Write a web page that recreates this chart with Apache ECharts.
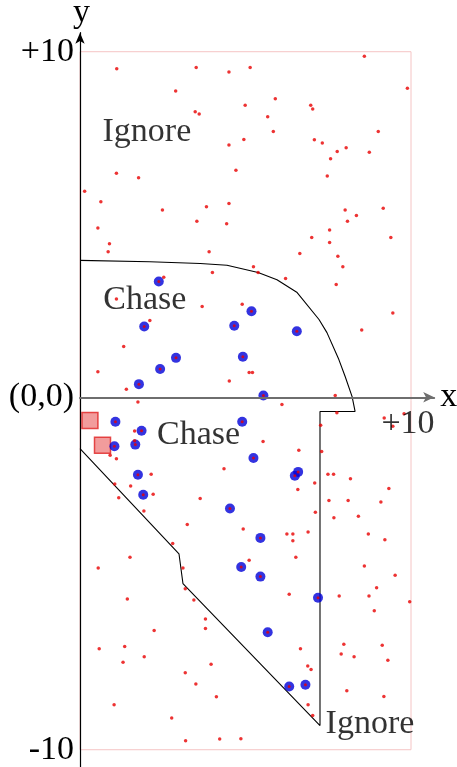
<!DOCTYPE html>
<html>
<head>
<meta charset="utf-8">
<script src="https://cdn.jsdelivr.net/npm/echarts@6/dist/echarts.min.js"></script>
<style>
  html, body { margin: 0; padding: 0; background: #fff; }
  #main { width: 457px; height: 767px; }
</style>
</head>
<body>
<div id="main"></div>
<script>
// scattered targets (red)
const dotX = [1.11, 3.51, 4.50, 2.89, 3.48, 3.60, 4.50, 1.10, 1.77, 0.14, 0.63, 2.49, 3.82, 4.50, 0.54, 3.53, 4.43, 0.89, 0.85, 3.90,
  8.59, 5.14, 9.89, 5.90, 4.99, 6.97, 7.03, 5.67, 5.84, 9.01, 4.95, 7.08, 7.32, 8.04, 7.77, 8.74, 7.57, 4.71, 7.47, 8.01, 9.16, 8.35, 8.08, 7.54, 7.00, 9.39, 7.54, 6.64, 7.79,
  4.00, 2.53, 1.10, 3.69, 2.11, 1.32, 0.54, 1.40, 4.51, 1.75, 1.65, 1.65, 0.91, 1.10, 4.35, 2.15, 1.05, 1.53, 2.21, 1.17, 3.63,
  7.94, 5.24, 5.38, 6.21, 7.74, 4.90, 9.45, 8.51, 5.11, 5.21, 7.71, 6.10, 7.76, 9.19, 9.79, 9.45, 7.27, 5.53, 6.61, 7.30, 7.49, 7.66, 8.17, 6.58, 7.09, 9.33, 7.52, 8.10, 9.09,
  1.93, 3.24, 2.80, 1.51, 0.55, 3.11, 3.18, 1.43, 3.44, 3.79, 3.79, 2.24, 0.58, 1.35, 1.94, 1.30, 3.96, 3.18, 3.50, 4.12, 1.03, 2.77, 3.19, 4.22,
  7.11, 7.67, 8.41, 4.93, 6.25, 6.43, 6.89, 8.71, 9.21, 6.43, 6.52, 5.11, 8.59, 9.52, 8.96, 6.32, 7.83, 8.73, 9.96, 8.89, 6.66, 7.97, 9.13, 7.89, 8.28, 9.30, 6.88, 6.98, 8.06, 9.18, 6.89, 7.03, 4.86];
const dotY = [9.51, 9.54, 9.41, 8.86, 8.26, 8.20, 7.30, 6.48, 6.35, 5.96, 5.66, 5.42, 5.51, 5.61, 4.90, 5.09, 5.02, 4.44, 4.21, 4.21,
  9.87, 9.54, 8.94, 8.64, 8.45, 8.45, 8.34, 8.12, 7.69, 7.69, 7.46, 7.45, 7.36, 7.22, 7.11, 7.09, 6.90, 6.57, 6.40, 5.42, 5.47, 5.26, 5.09, 4.84, 4.62, 4.62, 4.48, 4.16, 4.08,
  3.61, 3.47, 2.84, 2.63, 2.22, 1.47, 0.74, 0.23, 0.47, -0.14, -0.98, -1.26, -1.68, -1.78, -2.07, -2.23, -2.51, -2.57, -2.81, -2.91, -2.93,
  3.78, 3.78, 3.61, 3.44, 3.26, 2.69, 2.44, 1.95, 0.72, 0.72, 0.05, -0.21, -0.45, -0.60, -0.48, -0.84, -0.81, -1.28, -1.53, -1.57, -2.23, -2.23, -2.36, -2.67, -2.48, -2.64, -2.99, -2.99, -3.03,
  -3.29, -3.68, -4.23, -4.63, -4.94, -4.94, -5.54, -5.84, -5.87, -6.42, -6.69, -6.75, -7.28, -7.21, -7.51, -7.67, -7.73, -7.97, -8.30, -8.67, -8.90, -9.28, -9.94, -9.89,
  -3.33, -3.49, -3.44, -3.81, -3.96, -3.96, -3.90, -3.96, -4.12, -4.15, -4.63, -4.72, -4.88, -5.15, -5.51, -5.70, -5.75, -5.75, -5.92, -6.18, -7.28, -7.15, -7.18, -7.43, -7.51, -7.61, -7.78, -7.88, -8.49, -8.66, -8.90, -9.21, -9.88];

// targets being chased (blue)
const chaseX = [2.38, 1.94, 4.66, 5.18, 6.55, 2.90, 2.42, 4.92, 1.78, 5.54, 1.07, 1.86, 4.90, 1.04, 1.67, 5.24, 1.75, 6.59, 6.49, 1.91, 4.53, 5.45, 4.87, 5.45, 7.19, 5.67, 6.32, 6.81];
const chaseY = [3.35, 2.05, 2.07, 2.49, 1.91, 1.14, 0.82, 1.17, 0.38, 0.05, -0.71, -0.97, -0.71, -1.42, -1.37, -1.76, -2.24, -2.16, -2.27, -2.82, -3.22, -4.07, -4.91, -5.19, -5.80, -6.80, -8.37, -8.32];

// chasers (red squares)
const squareX = [0.30, 0.68];
const squareY = [-0.67, -1.39];

// chase / ignore boundary
const boundaryX = [0, 2.11, 3.63, 4.44, 5.38, 5.95, 6.56, 7.22, 7.46, 7.82, 8.01, 8.22, 8.31, 7.25, 7.25, 3.11, 2.99, 0];
const boundaryY = [3.96, 3.92, 3.87, 3.82, 3.61, 3.40, 3.03, 2.25, 1.87, 1.09, 0.60, 0.02, -0.41, -0.41, -9.50, -5.39, -4.53, -1.49];

// arena box
const boxX = [0, 10];
const boxY = [-10.2, 10];

// region names
const regionNames = ['Ignore', 'Chase', 'Chase', 'Ignore'];
const regionX = [2.02, 1.96, 3.58, 8.76];
const regionY = [7.66, 2.80, -1.10, -9.45];

// tick labels
const xTickValues = [10];
const xTickLabels = ['+10'];
const yTickValues = [10, 0, -10.2];
const yTickLabels = ['+10', '(0,0)', '-10'];

const zip = (xs, ys) => xs.map((x, i) => [x, ys[i]]);
const serif = 'Liberation Serif';

const chart = echarts.init(document.getElementById('main'));
chart.setOption({
  animation: false,
  grid: { left: 80, right: 22.8, top: 32.7, bottom: 0, containLabel: false, outerBoundsMode: 'none' },
  xAxis: {
    type: 'value',
    min: 0,
    max: 10.7,
    z: 10,
    name: 'x',
    nameGap: 6,
    nameTextStyle: { fontFamily: serif, fontSize: 34, color: '#000' },
    axisLine: {
      onZero: true,
      symbol: ['none', 'arrow'],
      symbolSize: [8, 11],
      lineStyle: { color: '#6e6e6e', width: 2 }
    },
    axisTick: { show: false },
    splitLine: { show: false },
    axisLabel: { show: false }
  },
  yAxis: {
    type: 'value',
    min: -10.7,
    max: 10.55,
    z: 10,
    name: 'y',
    nameGap: 3,
    nameTextStyle: { fontFamily: serif, fontSize: 34, color: '#000', align: 'right', padding: [0, -10, 0, 0] },
    axisLine: {
      onZero: true,
      symbol: ['none', 'arrow'],
      symbolSize: [7, 11],
      lineStyle: { color: '#000', width: 1.2 }
    },
    axisTick: { show: false },
    splitLine: { show: false },
    axisLabel: {
      customValues: yTickValues,
      formatter: v => yTickLabels[yTickValues.indexOf(v)],
      margin: 6,
      fontFamily: serif,
      fontSize: 34,
      color: '#000'
    }
  },
  series: [
    {
      type: 'line',
      data: [],
      silent: true,
      markArea: {
        silent: true,
        itemStyle: { color: 'rgba(0,0,0,0)', borderColor: '#f5c4c4', borderWidth: 1 },
        data: [[{ coord: [boxX[0], boxY[1]] }, { coord: [boxX[1], boxY[0]] }]]
      }
    },
    {
      type: 'line',
      data: zip(boundaryX, boundaryY),
      symbol: 'none',
      lineStyle: { color: '#000', width: 1.1 },
      z: 3
    },
    {
      type: 'scatter',
      data: zip(squareX, squareY),
      symbol: 'rect',
      symbolSize: 16,
      itemStyle: { color: 'rgba(236,110,110,0.85)', borderColor: '#e02222', borderWidth: 1.5 },
      z: 4
    },
    {
      type: 'scatter',
      data: zip(chaseX, chaseY),
      symbolSize: 10,
      itemStyle: { color: '#0000d8' },
      z: 5
    },
    {
      type: 'scatter',
      data: zip(chaseX, chaseY),
      symbolSize: 3,
      itemStyle: { color: '#e80000' },
      z: 6
    },
    {
      type: 'scatter',
      data: zip(dotX, dotY),
      symbolSize: 3.5,
      itemStyle: { color: '#e80000' },
      z: 6
    },
    {
      type: 'scatter',
      data: regionNames.map((n, i) => ({ value: [regionX[i], regionY[i]], name: n })),
      symbolSize: 1,
      itemStyle: { color: 'rgba(0,0,0,0)' },
      label: {
        show: true,
        position: 'inside',
        formatter: p => p.name,
        fontFamily: serif,
        fontSize: 34,
        color: '#000'
      },
      z: 7
    },
    {
      // x tick label, drawn below the axis line
      type: 'scatter',
      data: xTickValues.map((v, i) => ({ value: [v, 0], name: xTickLabels[i] })),
      symbolSize: 1,
      itemStyle: { color: 'rgba(0,0,0,0)' },
      label: {
        show: true,
        position: 'bottom',
        distance: 9,
        offset: [-3, 0],
        formatter: p => p.name,
        fontFamily: serif,
        fontSize: 34,
        color: '#000'
      },
      z: 7
    }
  ]
});
</script>
</body>
</html>
